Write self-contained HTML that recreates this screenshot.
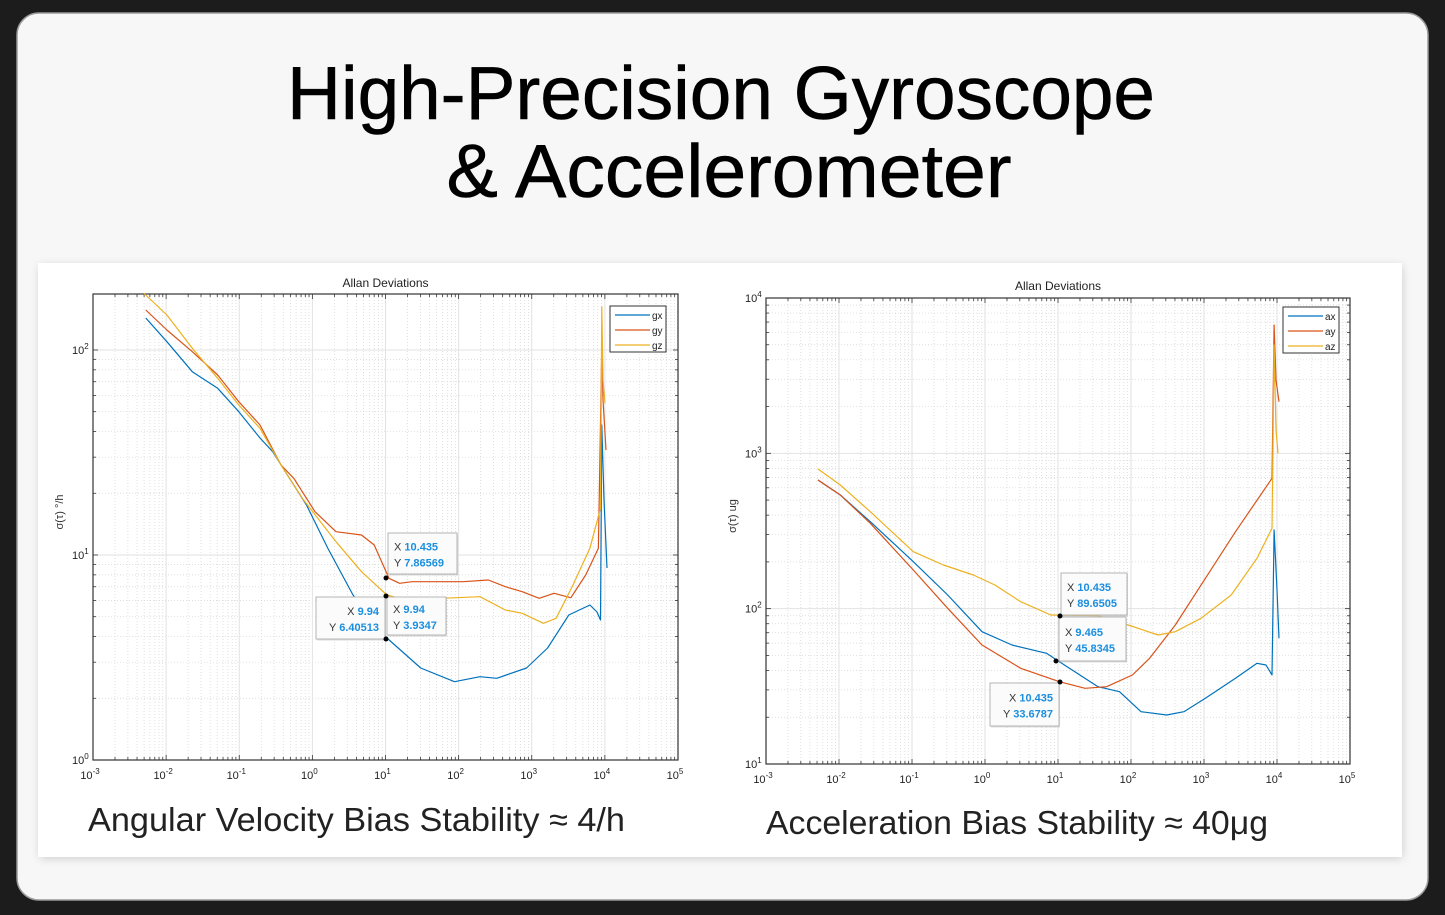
<!DOCTYPE html>
<html><head><meta charset="utf-8">
<style>
html,body{margin:0;padding:0;background:#1c1c1c;}
svg{display:block;font-family:"Liberation Sans",sans-serif;}
</style></head>
<body>
<svg id="s" width="1445" height="915" viewBox="0 0 1445 915" xmlns="http://www.w3.org/2000/svg">
<defs>
<filter id="sh" x="-5%" y="-5%" width="110%" height="110%"><feGaussianBlur stdDeviation="5"/></filter>
</defs>
<rect x="0" y="0" width="1445" height="915" fill="#1c1c1c"/>
<rect x="17" y="13" width="1411" height="887" rx="22" fill="#f7f7f7" stroke="#9a9a9a" stroke-width="1.5"/>
<text x="721" y="119" text-anchor="middle" font-size="75" fill="#000" stroke="#000" stroke-width="0.6" textLength="868" lengthAdjust="spacingAndGlyphs">High-Precision Gyroscope</text>
<text x="729" y="197" text-anchor="middle" font-size="75" fill="#000" stroke="#000" stroke-width="0.6" textLength="565" lengthAdjust="spacingAndGlyphs">&amp; Accelerometer</text>
<rect x="40" y="266" width="1362" height="592" fill="#000" opacity="0.18" filter="url(#sh)"/>
<rect x="38" y="263" width="1364" height="594" fill="#fff"/>
<g id="L"></g>
<g id="R"></g>
<text x="88" y="831" font-size="33" fill="#222" textLength="537" lengthAdjust="spacingAndGlyphs">Angular Velocity Bias Stability ≈ 4/h</text>
<text x="766" y="834" font-size="33" fill="#222" textLength="502" lengthAdjust="spacingAndGlyphs">Acceleration Bias Stability ≈ 40μg</text>
</svg>
<script>
const NS="http://www.w3.org/2000/svg";
function el(p,t,a,txt){const e=document.createElementNS(NS,t);for(const k in a)e.setAttribute(k,a[k]);if(txt!==undefined)e.textContent=txt;p.appendChild(e);return e;}
function chart(g,o){
 const {x0,x1,yTop,yBot,d0,d1,ylab,title,titleY,series,legend,tips,dots}=o;
 const dx=(x1-x0)/8;
 const yd=(yBot-yTop)/(d1-d0);
 const dTop=Math.ceil(d1);
 for(let d=0;d<8;d++)for(let m=2;m<10;m++){const x=x0+dx*(d+Math.log10(m));el(g,'line',{x1:x,x2:x,y1:yTop,y2:yBot,stroke:'#d4d4d4','stroke-width':0.7,'stroke-dasharray':'1,2'});}
 for(let d=d0;d<dTop;d++)for(let m=2;m<10;m++){const y=yBot-yd*(d-d0+Math.log10(m));if(y<yTop+1)continue;el(g,'line',{x1:x0,x2:x1,y1:y,y2:y,stroke:'#d4d4d4','stroke-width':0.7,'stroke-dasharray':'1,2'});}
 for(let d=1;d<8;d++){const x=x0+dx*d;el(g,'line',{x1:x,x2:x,y1:yTop,y2:yBot,stroke:'#e2e2e2','stroke-width':1});}
 for(let d=d0+1;d<dTop;d++){const y=yBot-yd*(d-d0);if(y<yTop+1)continue;el(g,'line',{x1:x0,x2:x1,y1:y,y2:y,stroke:'#e2e2e2','stroke-width':1});}
 for(let d=0;d<8;d++){for(let m=1;m<10;m++){const x=x0+dx*(d+Math.log10(m));const L=m==1?5:3;el(g,'line',{x1:x,x2:x,y1:yBot,y2:yBot-L,stroke:'#333','stroke-width':0.8});el(g,'line',{x1:x,x2:x,y1:yTop,y2:yTop+L,stroke:'#333','stroke-width':0.8});}}
 for(let d=d0;d<dTop;d++){for(let m=1;m<10;m++){const y=yBot-yd*(d-d0+Math.log10(m));if(y<yTop+1)continue;const L=m==1?5:3;el(g,'line',{x1:x0,x2:x0+L,y1:y,y2:y,stroke:'#333','stroke-width':0.8});el(g,'line',{x1:x1,x2:x1-L,y1:y,y2:y,stroke:'#333','stroke-width':0.8});}}
 el(g,'rect',{x:x0,y:yTop,width:x1-x0,height:yBot-yTop,fill:'none',stroke:'#333','stroke-width':1.2});
 for(let d=0;d<=8;d++){const x=x0+dx*d;const t=el(g,'text',{x:x-3,y:yBot+19,'font-size':11,fill:'#222','text-anchor':'middle'},'10');el(t,'tspan',{dy:-5,'font-size':8},String(d-3));}
 for(let d=d0;d<=dTop;d++){const y=yBot-yd*(d-d0);if(y<yTop-8)continue;const t=el(g,'text',{x:x0-21,y:y+4,'font-size':11,fill:'#222'},'10');el(t,'tspan',{dy:-5,'font-size':8},String(d));}
 el(g,'text',{x:(x0+x1)/2,y:titleY,'font-size':12,fill:'#222','text-anchor':'middle'},title);
 el(g,'text',{x:0,y:0,'font-size':11,fill:'#333','text-anchor':'middle',transform:`translate(${x0-30},${(yTop+yBot)/2-15}) rotate(-90)`},ylab);
 const cols=['#0072BD','#D95319','#EDB120'];
 series.forEach((s,i)=>{el(g,'polyline',{points:s.map(p=>p.join(',')).join(' '),fill:'none',stroke:cols[i],'stroke-width':1.2,'stroke-linejoin':'round'});});
 const [lx,ly,names]=legend;
 el(g,'rect',{x:lx,y:ly,width:56,height:46,fill:'#fff',stroke:'#333','stroke-width':1});
 names.forEach((n,i)=>{const y=ly+9+i*15;el(g,'line',{x1:lx+5,x2:lx+40,y1:y,y2:y,stroke:cols[i],'stroke-width':1.3});el(g,'text',{x:lx+42,y:y+4,'font-size':10,fill:'#222'},n);});
 tips.forEach(t=>{const [x,y,w,h,a,b,c,dd,right]=t;
  el(g,'rect',{x:x+1,y:y+1.5,width:w,height:h,fill:'#bbb',opacity:0.5});
  el(g,'rect',{x:x,y:y,width:w,height:h,fill:'#fbfbfb',stroke:'#b5b5b5','stroke-width':1});
  const tx=right?x+w-6:x+6, anc=right?'end':'start';
  const t1=el(g,'text',{x:tx,y:y+h/2-3,'font-size':11,fill:'#333','text-anchor':anc},a+' ');el(t1,'tspan',{fill:'#1a8fe0','font-weight':'bold'},b);
  const t2=el(g,'text',{x:tx,y:y+h/2+13,'font-size':11,fill:'#333','text-anchor':anc},c+' ');el(t2,'tspan',{fill:'#1a8fe0','font-weight':'bold'},dd);
 });
 dots.forEach(p=>el(g,'circle',{cx:p[0],cy:p[1],r:2.5,fill:'#000'}));
}
chart(document.getElementById('L'),{x0:93,x1:678,yTop:294,yBot:760,d0:0,d1:2.273,ylab:'σ(τ) °/h',title:'Allan Deviations',titleY:287,
 series:[
 [[145.8,318],[166.9,341.7],[192.3,371.7],[217.7,388.3],[238.8,411.7],[260,438],[272.7,451.7],[285.3,471.7],[306.5,505],[327.7,548],[353,595],[386.9,638],[420.7,668],[454.5,681.7],[480,676.7],[496.8,678.3],[526.5,668],[547.6,648],[568.8,615],[589.9,605],[597,612],[600.5,620],[601.8,425],[604,500],[607,568]],
 [[145.8,310],[166.9,330],[192.3,351.7],[217.7,375],[238.8,401.7],[260,425],[281,465],[293.8,478.3],[315,511.7],[336,531.7],[361.5,535],[374.2,545],[389,578.3],[399.6,583.3],[412,581.7],[463,581.7],[488.4,580],[505.3,586.7],[522.2,591.7],[539.2,598.3],[554,593.3],[570.9,597.7],[585.7,575],[598.4,548.3],[601.8,345],[603,400],[606,450]],
 [[143.6,293],[166.9,315],[192.3,348.3],[217.7,378.3],[238.8,405],[260,428.3],[281,465],[302.3,498.3],[336,541.7],[361.5,571.7],[386.9,595],[412.3,601.7],[441.9,598.3],[480,596.7],[505.3,610],[522.2,613.3],[543.4,623.3],[556.1,618.3],[573,585],[589.9,548.3],[600.5,508.3],[601.8,306.7],[603,380],[605,403.3]]
 ],
 legend:[610,306,['gx','gy','gz']],
 tips:[[388,533,69,41,'X','10.435','Y','7.86569',false],[316,597,69,42,'X','9.94','Y','6.40513',true],[387,597,59,38,'X','9.94','Y','3.9347',false]],
 dots:[[386,578],[386,596],[386,639]]});
chart(document.getElementById('R'),{x0:766,x1:1350,yTop:298,yBot:764,d0:1,d1:4,ylab:'σ(τ) ug',title:'Allan Deviations',titleY:290,
 series:[
 [[818,480],[840.3,495],[870.3,521.7],[913.3,561.7],[947.7,595],[982,631.7],[1012,645],[1046.5,653.3],[1059.4,661.7],[1098,686.7],[1119.5,691.7],[1141,711.7],[1166.7,715],[1183.9,711.7],[1205.4,698.3],[1235.5,678.3],[1257,663.3],[1266,665],[1272,675],[1274.1,530],[1277,590],[1279,638.3]],
 [[818,480],[840.3,495],[870.3,523.3],[913.3,570],[947.7,608.3],[982,645],[1020.7,668.3],[1059.4,681.7],[1085.1,688.3],[1106.6,686.7],[1132.4,675],[1149.6,658.3],[1175.3,625],[1205.4,578.3],[1235.5,531.7],[1272,478.3],[1274.1,325],[1276,380],[1279,401.7]],
 [[818,469],[840.3,485],[870.3,511.7],[913.3,551.7],[943.4,565],[973.4,575],[994.9,585],[1020.7,601.7],[1050.8,615],[1098,615.7],[1128.1,625],[1158.2,635],[1175.3,631.7],[1201,618.3],[1231.2,595],[1257,558.3],[1272,528.3],[1274.1,345],[1276,430],[1278,453.3]]
 ],
 legend:[1283,307,['ax','ay','az']],
 tips:[[1061,573,66,42,'X','10.435','Y','89.6505',false],[1059,617,67,44,'X','9.465','Y','45.8345',false],[990,683,69,43,'X','10.435','Y','33.6787',true]],
 dots:[[1060,616],[1056,661],[1060,682]]});
</script>
</body></html>
